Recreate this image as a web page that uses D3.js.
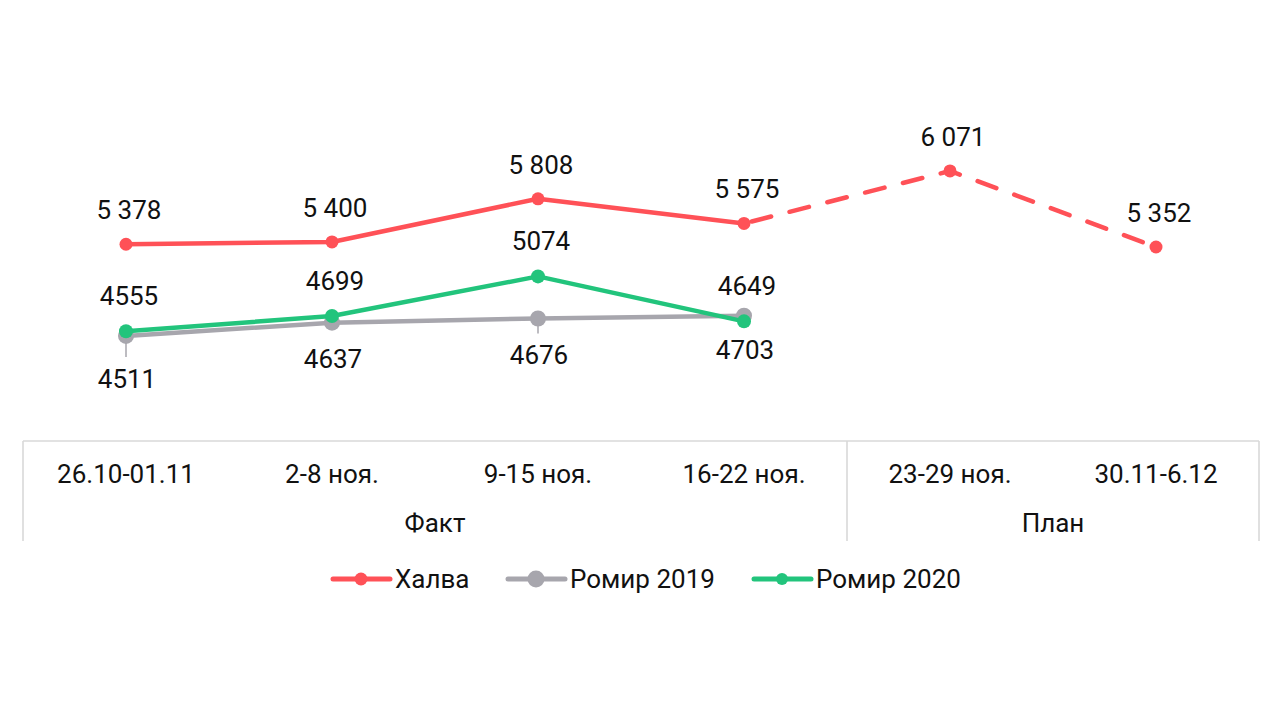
<!DOCTYPE html>
<html>
<head>
<meta charset="utf-8">
<script src="https://cdn.jsdelivr.net/npm/d3@7"></script>
<style>
  body { margin: 0; background: #fff; }
  svg { font-family: Roboto, "Noto Sans", sans-serif; }
</style>
</head>
<body>
<div class="chart-div"></div>
<script>
// categories and groups
const categories = ["26.10-01.11", "2-8 ноя.", "9-15 ноя.", "16-22 ноя.", "23-29 ноя.", "30.11-6.12"]
const groups = [["Факт", 0, 4], ["План", 4, 6]]

// series
const halva = [5378, 5400, 5808, 5575, 6071, 5352]
const halvaLabels = ["5 378", "5 400", "5 808", "5 575", "6 071", "5 352"]
const romir2019 = [4511, 4637, 4676, 4703]
const romir2020 = [4555, 4699, 5074, 4649]
const factCount = 4

const seriesNames = ["Халва", "Ромир 2019", "Ромир 2020"]
const colors = ["#ff5157", "#a7a6ad", "#22c47c"]

const width = 1280, height = 720
const fs = 26
const svg = d3.select(".chart-div").append("svg")
    .attr("width", width).attr("height", height)

let xScale = d3.scaleBand().domain(categories).range([23, 1259])
let cx = d => xScale(d) + xScale.bandwidth() / 2
let yScale = d3.scaleLinear().domain([4000, 6500]).range([390, 125.6])

// category box
const boxTop = 441, boxBottom = 541
let gBox = svg.append("g").attr("class", "g-box")
gBox.append("line")
    .attr("x1", xScale.range()[0]).attr("x2", xScale.range()[1])
    .attr("y1", boxTop).attr("y2", boxTop)
let edges = [xScale.range()[0], xScale(categories[4]), xScale.range()[1]]
gBox.selectAll("line.v").data(edges).join("line").attr("class", "v")
    .attr("x1", d => d).attr("x2", d => d)
    .attr("y1", boxTop).attr("y2", boxBottom)
gBox.selectAll("line").attr("stroke", "#d9d9d9").attr("stroke-width", 1.6)

gBox.selectAll("text.cat").data(categories).join("text").attr("class", "cat")
    .attr("x", d => cx(d)).attr("y", 483)
    .attr("text-anchor", "middle").attr("font-size", fs).attr("fill", "#111")
    .text(d => d)
gBox.selectAll("text.grp").data(groups).join("text").attr("class", "grp")
    .attr("x", d => (xScale(categories[d[1]]) + (d[2] < categories.length ? xScale(categories[d[2]]) : xScale.range()[1])) / 2)
    .attr("y", 532)
    .attr("text-anchor", "middle").attr("font-size", fs).attr("fill", "#111")
    .text(d => d[0])

let line = d3.line().x(d => cx(d.c)).y(d => yScale(d.v))
let pts = (arr) => arr.map((v, i) => ({c: categories[i], v: v, i: i}))

// Ромир 2019 (gray)
let gGray = svg.append("g")
gGray.append("path").datum(pts(romir2019))
    .attr("d", line).attr("fill", "none")
    .attr("stroke", colors[1]).attr("stroke-width", 4.5).attr("stroke-linejoin", "round")
gGray.selectAll("circle").data(pts(romir2019)).join("circle")
    .attr("cx", d => cx(d.c)).attr("cy", d => yScale(d.v)).attr("r", 8)
    .attr("fill", colors[1])

// Ромир 2020 (green)
let gGreen = svg.append("g")
gGreen.append("path").datum(pts(romir2020))
    .attr("d", line).attr("fill", "none")
    .attr("stroke", colors[2]).attr("stroke-width", 4.5).attr("stroke-linejoin", "round")
gGreen.selectAll("circle").data(pts(romir2020)).join("circle")
    .attr("cx", d => cx(d.c)).attr("cy", d => yScale(d.v)).attr("r", 7)
    .attr("fill", colors[2])

// Халва: solid for fact, dashed for plan
let gRed = svg.append("g")
let halvaPts = pts(halva)
gRed.append("path").datum(halvaPts.slice(0, factCount))
    .attr("d", line).attr("fill", "none")
    .attr("stroke", colors[0]).attr("stroke-width", 4.5).attr("stroke-linejoin", "round")
gRed.append("path").datum(halvaPts.slice(factCount - 1))
    .attr("d", line).attr("fill", "none")
    .attr("stroke", colors[0]).attr("stroke-width", 4.5)
    .attr("stroke-dasharray", "20 19").attr("stroke-linecap", "round")
    .attr("stroke-dashoffset", -8)
gRed.selectAll("circle").data(halvaPts).join("circle")
    .attr("cx", d => cx(d.c)).attr("cy", d => yScale(d.v)).attr("r", 6.5)
    .attr("fill", colors[0])

// data labels
let gLab = svg.append("g").attr("font-size", fs).attr("fill", "#111").attr("text-anchor", "middle")
gLab.selectAll("text.h").data(halvaPts).join("text").attr("class", "h")
    .attr("x", d => cx(d.c) + 3).attr("y", d => yScale(d.v) - 25)
    .text(d => halvaLabels[d.i])
gLab.selectAll("text.g").data(pts(romir2020)).join("text").attr("class", "g")
    .attr("x", d => cx(d.c) + 3).attr("y", d => yScale(d.v) - 26)
    .text(d => d.v)
// gray labels below; first one pushed down with a leader line
let grayDy = [52, 45, 45, 43]
gLab.selectAll("text.r").data(pts(romir2019)).join("text").attr("class", "r")
    .attr("x", d => cx(d.c) + 1).attr("y", d => yScale(d.v) + grayDy[d.i])
    .text(d => d.v)
svg.append("g").selectAll("line").data(pts(romir2019).filter(d => d.i === 0 || d.i === 2)).join("line")
    .attr("x1", d => cx(d.c)).attr("x2", d => cx(d.c))
    .attr("y1", d => yScale(d.v) + 6).attr("y2", d => yScale(d.v) + (d.i === 0 ? 21 : 15))
    .attr("stroke", colors[1]).attr("stroke-width", 1.5)

// legend
let legendX = [331, 506, 752]
let gLeg = svg.append("g").attr("class", "legend")
let item = gLeg.selectAll("g").data(seriesNames).join("g")
    .attr("transform", (d, i) => "translate(" + legendX[i] + ",579)")
item.append("line").attr("x1", 2).attr("x2", 59).attr("y1", 0).attr("y2", 0)
    .attr("stroke", (d, i) => colors[i]).attr("stroke-width", 5).attr("stroke-linecap", "round")
item.append("circle").attr("cx", 30).attr("cy", 0).attr("r", (d, i) => [6.5, 8.5, 6][i])
    .attr("fill", (d, i) => colors[i])
item.append("text").attr("x", 64).attr("y", 9).attr("font-size", fs).attr("fill", "#111")
    .text(d => d)
</script>
</body>
</html>
